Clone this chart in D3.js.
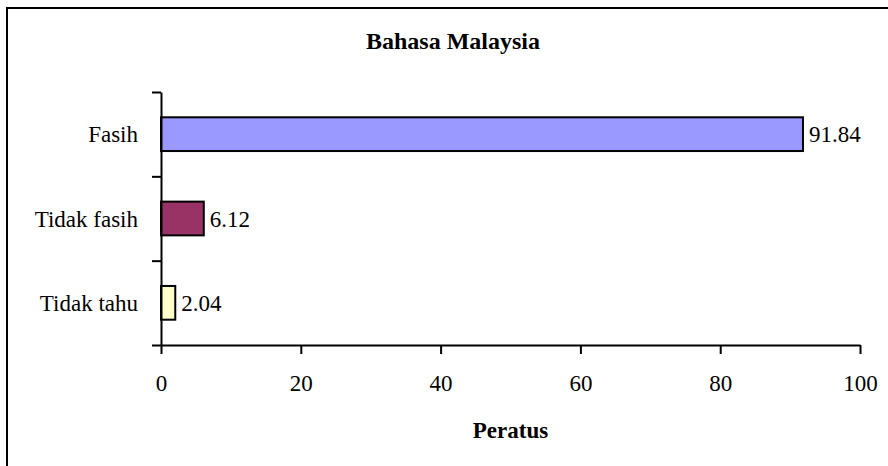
<!DOCTYPE html>
<html>
<head>
<meta charset="utf-8">
<script src="https://cdn.jsdelivr.net/npm/d3@7"></script>
<style>
  body { margin: 0; background: #fff; }
  text { font-family: "Liberation Serif", "Times New Roman", serif; fill: #000; }
</style>
</head>
<body>
<script>
// chart data
var categories = ["Fasih", "Tidak fasih", "Tidak tahu"];
var values = [91.84, 6.12, 2.04];
var barColors = ["#9999ff", "#993366", "#ffffcc"];
var xTicks = [0, 20, 40, 60, 80, 100];
var titleText = "Bahasa Malaysia";
var xLabel = "Peratus";

var W = 888, H = 466;
var plot = {left: 161, right: 860, top: 92, bottom: 345};

var svg = d3.select("body").append("svg")
    .attr("width", W)
    .attr("height", H)
    .attr("font-family", "Liberation Serif, serif");

// outer chart border
svg.append("rect")
    .attr("x", 7).attr("y", 8)
    .attr("width", 900).attr("height", 480)
    .attr("fill", "none")
    .attr("stroke", "#000")
    .attr("stroke-width", 2);

// scales
var xScale = d3.scaleLinear().domain([0, 100]).range([plot.left, plot.right]);
var yScale = d3.scaleBand().domain(categories)
    .range([plot.top, plot.bottom])
    .paddingInner(0.6).paddingOuter(0.3);
// boundaries between categories, for the y tick marks
var yEdge = d3.scaleLinear().domain([0, categories.length]).range([plot.top, plot.bottom]);

// title
svg.append("text")
    .attr("x", 453).attr("y", 49)
    .attr("text-anchor", "middle")
    .attr("font-size", "24px")
    .attr("font-weight", "bold")
    .text(titleText);

// bars
svg.selectAll(".bar")
    .data(values)
    .enter().append("rect")
    .attr("class", "bar")
    .attr("x", xScale(0))
    .attr("y", function(d, i) { return yScale(categories[i]); })
    .attr("width", function(d) { return xScale(d) - xScale(0); })
    .attr("height", yScale.bandwidth())
    .attr("fill", function(d, i) { return barColors[i]; })
    .attr("stroke", "#000")
    .attr("stroke-width", 2);

// value labels
svg.selectAll(".val")
    .data(values)
    .enter().append("text")
    .attr("class", "val")
    .attr("x", function(d) { return xScale(d) + 6; })
    .attr("y", function(d, i) { return yScale(categories[i]) + yScale.bandwidth() / 2; })
    .attr("dy", "0.35em")
    .attr("font-size", "23px")
    .text(function(d) { return d.toFixed(2); });

// x axis
var xAxis = d3.axisBottom(xScale)
    .tickValues(xTicks)
    .tickSize(9)
    .tickSizeOuter(0)
    .tickPadding(22);
var gX = svg.append("g")
    .attr("transform", "translate(0," + plot.bottom + ")")
    .call(xAxis);
gX.selectAll("text")
    .attr("font-size", "23px")
    .attr("dy", "0.66em");

// y axis: ticks on category boundaries, labels at band centres
var yAxis = d3.axisLeft(yEdge)
    .tickValues(d3.range(categories.length + 1))
    .tickFormat("")
    .tickSize(9)
    .tickSizeOuter(0);
var gY = svg.append("g")
    .attr("transform", "translate(" + plot.left + ",0)")
    .call(yAxis);

svg.selectAll(".domain, .tick line")
    .attr("stroke", "#000")
    .attr("stroke-width", 2);

svg.selectAll(".cat")
    .data(categories)
    .enter().append("text")
    .attr("class", "cat")
    .attr("x", plot.left - 23)
    .attr("y", function(d) { return yScale(d) + yScale.bandwidth() / 2; })
    .attr("dy", "0.35em")
    .attr("text-anchor", "end")
    .attr("font-size", "23px")
    .text(function(d) { return d; });

// x axis title
svg.append("text")
    .attr("x", (plot.left + plot.right) / 2)
    .attr("y", 438)
    .attr("text-anchor", "middle")
    .attr("font-size", "23px")
    .attr("font-weight", "bold")
    .text(xLabel);
</script>
</body>
</html>
